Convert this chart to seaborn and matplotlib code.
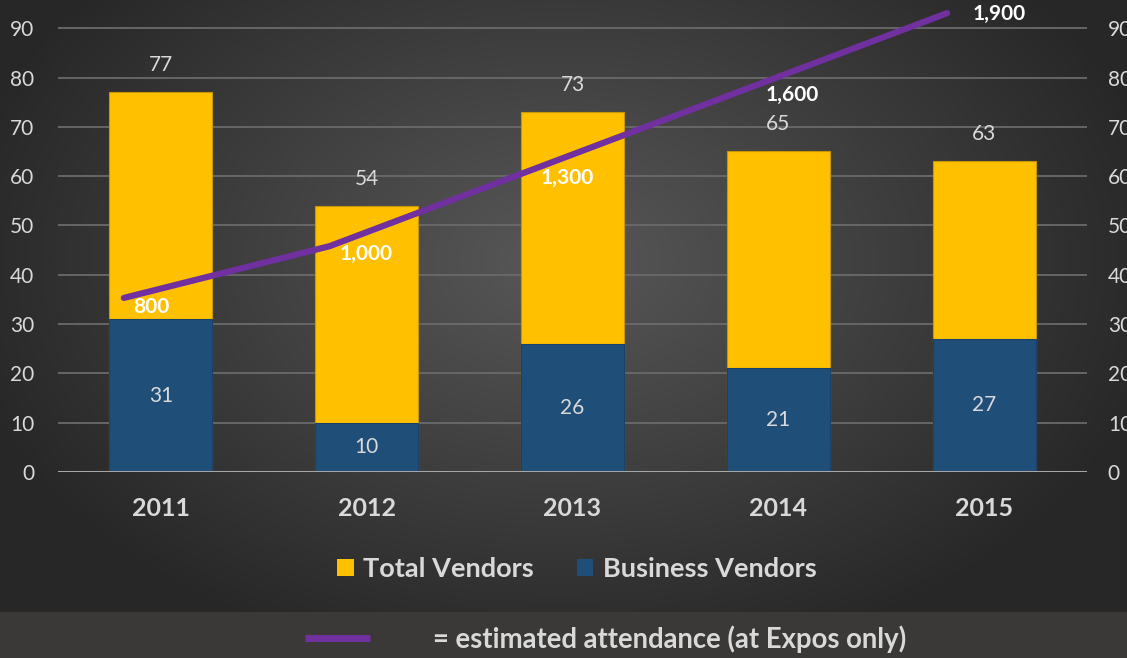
import numpy as np
import pandas as pd
import matplotlib
matplotlib.use("Agg")
import matplotlib.pyplot as plt
from matplotlib.patches import Patch
from matplotlib.lines import Line2D
import seaborn as sns

years = ["2011", "2012", "2013", "2014", "2015"]
total_vendors = [77, 54, 73, 65, 63]
business_vendors = [31, 10, 26, 21, 27]
attendance = [800, 1000, 1300, 1600, 1900]
attendance_labels = ["800", "1,000", "1,300", "1,600", "1,900"]
left_ticks = [0, 10, 20, 30, 40, 50, 60, 70, 80, 90]

# label placement offsets (pixels) for the attendance labels, style only
label_offsets = [(27, -9), (36, -8), (32, -9), (51, -4), (52, -1)]

YELLOW = "#FFC000"
BLUE = "#1F4E79"
PURPLE = "#7030A0"
TXT = "#D9D9D9"

sns.set_theme(style="white")
plt.rcParams["font.family"] = ["Lato", "DejaVu Sans"]

W, H = 1127, 658
fig = plt.figure(figsize=(W / 100, H / 100), dpi=100)

# background radial gradient
bg = fig.add_axes([0, 0, 1, 1], zorder=-10)
yy, xx = np.mgrid[0:H, 0:W]
cx, cy = 560, 260
r = np.sqrt(((xx - cx) / 620.0) ** 2 + ((yy - cy) / 420.0) ** 2)
r = np.clip(r, 0, 1)
light = np.array([0x58, 0x58, 0x58]) / 255
dark = np.array([0x27, 0x27, 0x27]) / 255
img = light[None, None, :] * (1 - r[..., None]) + dark[None, None, :] * r[..., None]
img[612:, :, :] = np.array([0x3A, 0x39, 0x37]) / 255
bg.imshow(img, aspect="auto", extent=[0, W, H, 0])
bg.set_xlim(0, W)
bg.set_ylim(H, 0)
bg.axis("off")

ax = fig.add_axes([58 / W, 186 / H, 1029 / W, 466 / H])
ax.set_facecolor("none")

df = pd.DataFrame({"year": years, "total": total_vendors, "business": business_vendors})
sns.barplot(data=df, x="year", y="total", color=YELLOW, width=0.5, ax=ax,
            saturation=1, edgecolor="#C89600", linewidth=0.8, zorder=3)
sns.barplot(data=df, x="year", y="business", color=BLUE, width=0.5, ax=ax,
            saturation=1, edgecolor="#1A4268", linewidth=0.8, zorder=4)

ax.set_xlim(-0.5, 4.5)
ax.set_ylim(0, 94.5)
ax.set_yticks(left_ticks)
ax.set_yticklabels([str(t) for t in left_ticks], color=TXT, fontsize=15)
ax.tick_params(axis="y", length=0, pad=17)
ax.tick_params(axis="x", length=0, pad=18)
for lbl in ax.get_xticklabels():
    lbl.set_fontsize(18)
    lbl.set_fontweight("bold")
    lbl.set_color(TXT)
ax.set_xlabel("")
ax.set_ylabel("")
for s in ax.spines.values():
    s.set_visible(False)
ax.yaxis.grid(True, color="#6A6A6A", linewidth=1.3, zorder=0)
ax.set_axisbelow(True)
ax.axhline(0, color="#A6A6A6", linewidth=2.2, zorder=5)

# right-hand duplicate axis labels
sec = ax.secondary_yaxis("right")
sec.set_yticks(left_ticks)
sec.set_yticklabels([str(t) for t in left_ticks], color=TXT, fontsize=15)
sec.tick_params(length=0, pad=15)
for s in sec.spines.values():
    s.set_visible(False)

for i, (t, b) in enumerate(zip(total_vendors, business_vendors)):
    ax.annotate(str(t), (i, t), xytext=(0, 17), textcoords="offset pixels",
                ha="center", va="bottom", color=TXT, fontsize=15, zorder=6)
    ax.annotate(str(b), (i, b / 2), ha="center", va="center",
                color=TXT, fontsize=15, zorder=6)

# attendance line on secondary scale
ax2 = ax.twinx()
ax2.set_facecolor("none")
ax2.set_ylim(127.6, 1927.6)
ax2.set_yticks([])
for s in ax2.spines.values():
    s.set_visible(False)
xline = np.arange(len(years)) - 0.18
sns.lineplot(x=xline, y=attendance, ax=ax2, color=PURPLE, linewidth=4.5,
             solid_capstyle="round", zorder=7)
ax2.set_xlim(-0.5, 4.5)
for i, (a, lab) in enumerate(zip(attendance, attendance_labels)):
    ax2.annotate(lab, (xline[i], a), xytext=label_offsets[i], textcoords="offset pixels",
                 ha="center", va="center", color="white", fontsize=15,
                 fontweight="bold", zorder=8)

# legend for bars
handles = [Patch(facecolor=YELLOW, edgecolor="none", label="Total Vendors"),
           Patch(facecolor=BLUE, edgecolor="none", label="Business Vendors")]
leg = fig.legend(handles=handles, loc="center", bbox_to_anchor=(577 / W, 1 - 569 / H),
                 ncol=2, frameon=False, fontsize=19.5, handlelength=0.6, handleheight=0.6,
                 handletextpad=0.35, columnspacing=1.6)
for t in leg.get_texts():
    t.set_color(TXT)
    t.set_fontweight("bold")

# bottom attendance note
fig.add_artist(Line2D([305 / W, 370 / W], [1 - 638 / H, 1 - 638 / H], color=PURPLE,
                      linewidth=5, solid_capstyle="butt"))
fig.text(433 / W, 1 - 639 / H, "= estimated attendance (at Expos only)", ha="left",
         va="center", color=TXT, fontsize=19.8, fontweight="bold")

fig.savefig("out.png", dpi=100)
